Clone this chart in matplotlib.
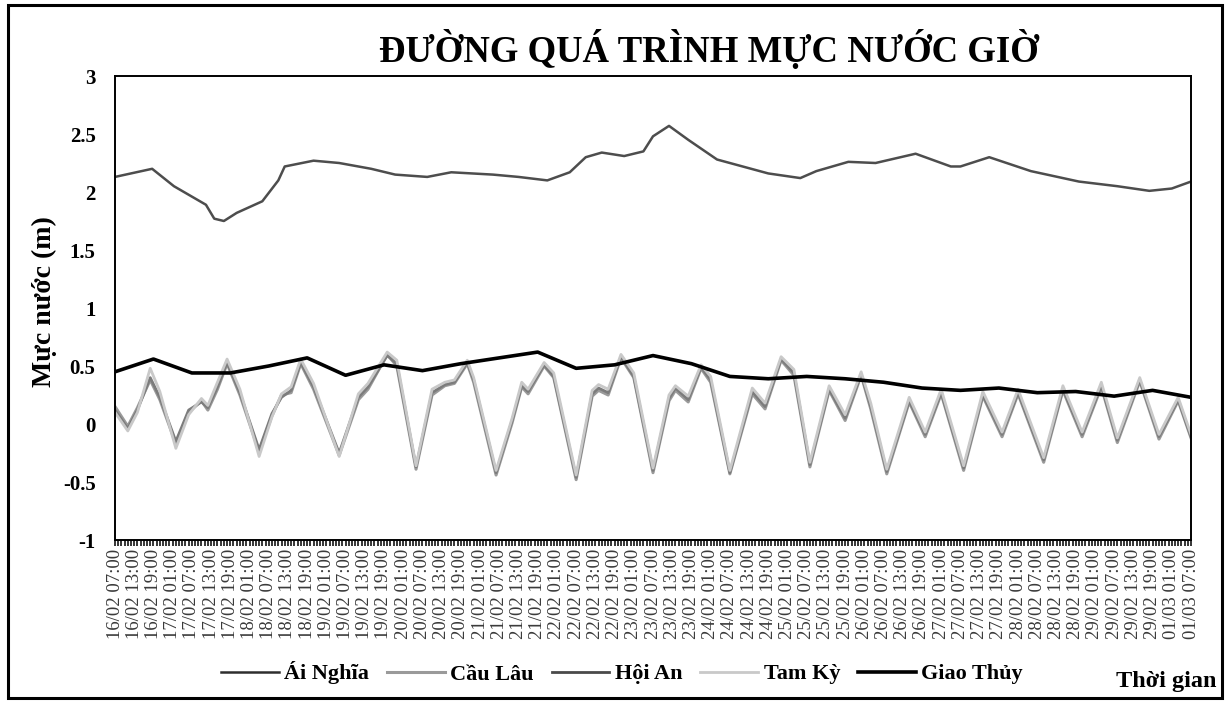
import matplotlib
matplotlib.use("Agg")
import matplotlib.pyplot as plt
from matplotlib.ticker import MultipleLocator, FixedLocator
from matplotlib.patches import Rectangle
import pandas as pd

# ---------------- data ----------------
start_time = "2020-02-16 07:00"
end_time = "2020-03-01 07:00"
tick_labels = [t.strftime("%d/%m %H:%M") for t in
               pd.date_range(start_time, end_time, freq="6h")]
y_ticks = [-1, -0.5, 0, 0.5, 1, 1.5, 2, 2.5, 3]
y_tick_labels = ["-1", "-0.5", "0", "0.5", "1", "1.5", "2", "2.5", "3"]

# hours since 16/02 07:00
an_hours = [0, 11.6, 18.4, 28.4, 31, 34, 38, 46, 51, 53, 62, 70, 80, 87.5, 97.5,
            105, 118, 126, 135, 142, 147, 152, 159, 165, 168, 173, 179, 188, 196,
            204, 214, 219, 229, 237.5, 250, 261, 264, 273, 286, 301, 313, 323, 330, 336]
ai_nghia = [2.13, 2.20, 2.05, 1.89, 1.77, 1.75, 1.82, 1.92, 2.10, 2.22, 2.27, 2.25,
            2.20, 2.15, 2.13, 2.17, 2.15, 2.13, 2.10, 2.17, 2.30, 2.34, 2.31, 2.35,
            2.48, 2.57, 2.45, 2.28, 2.22, 2.16, 2.12, 2.18, 2.26, 2.25, 2.33, 2.22,
            2.22, 2.30, 2.18, 2.09, 2.05, 2.01, 2.03, 2.09]

tide_hours = [0, 4, 7, 11, 14, 19, 23, 27, 29, 32, 35, 39, 45, 49, 52, 55, 58, 62,
              70, 76, 79, 81, 85, 88, 94, 99, 103, 106, 110, 112, 119, 124, 127, 129,
              134, 137, 144, 149, 151, 154, 158, 162, 168, 173, 175, 179, 183, 186,
              192, 199, 203, 208, 212, 217, 223, 228, 233, 236, 241, 248, 253, 258,
              265, 271, 277, 282, 290, 296, 302, 308, 313, 320, 326, 332, 336]
hoi_an = [0.12, -0.04, 0.12, 0.40, 0.23, -0.15, 0.12, 0.19, 0.14, 0.32, 0.53, 0.27,
          -0.22, 0.09, 0.23, 0.29, 0.53, 0.32, -0.25, 0.23, 0.32, 0.41, 0.59, 0.52,
          -0.37, 0.27, 0.34, 0.36, 0.53, 0.38, -0.42, 0.03, 0.33, 0.28, 0.51, 0.41,
          -0.46, 0.26, 0.31, 0.27, 0.58, 0.41, -0.40, 0.22, 0.31, 0.21, 0.49, 0.38,
          -0.42, 0.28, 0.15, 0.56, 0.44, -0.35, 0.30, 0.05, 0.43, 0.15, -0.41, 0.20,
          -0.09, 0.27, -0.38, 0.25, -0.09, 0.27, -0.31, 0.30, -0.09, 0.33, -0.14,
          0.38, -0.11, 0.21, -0.11]
cau_lau = [0.15, -0.02, 0.14, 0.38, 0.21, -0.17, 0.10, 0.20, 0.12, 0.30, 0.52, 0.25,
           -0.24, 0.07, 0.25, 0.27, 0.52, 0.30, -0.27, 0.21, 0.30, 0.40, 0.60, 0.50,
           -0.39, 0.25, 0.33, 0.35, 0.52, 0.36, -0.44, 0.01, 0.32, 0.26, 0.50, 0.40,
           -0.48, 0.24, 0.29, 0.25, 0.57, 0.40, -0.42, 0.20, 0.29, 0.19, 0.48, 0.36,
           -0.43, 0.26, 0.13, 0.55, 0.42, -0.37, 0.29, 0.03, 0.42, 0.13, -0.43, 0.19,
           -0.11, 0.26, -0.40, 0.24, -0.11, 0.26, -0.33, 0.29, -0.11, 0.32, -0.16,
           0.37, -0.13, 0.20, -0.12]
tam_ky = [0.10, -0.06, 0.10, 0.48, 0.28, -0.21, 0.08, 0.22, 0.16, 0.36, 0.56, 0.30,
          -0.28, 0.06, 0.26, 0.32, 0.56, 0.35, -0.28, 0.26, 0.35, 0.44, 0.62, 0.55,
          -0.36, 0.30, 0.36, 0.38, 0.55, 0.40, -0.40, 0.05, 0.36, 0.30, 0.53, 0.44,
          -0.44, 0.29, 0.34, 0.30, 0.60, 0.44, -0.38, 0.25, 0.33, 0.24, 0.51, 0.41,
          -0.40, 0.31, 0.18, 0.58, 0.47, -0.33, 0.33, 0.08, 0.45, 0.18, -0.39, 0.23,
          -0.07, 0.30, -0.36, 0.28, -0.07, 0.30, -0.29, 0.33, -0.07, 0.36, -0.12,
          0.40, -0.09, 0.23, -0.09]

gt_hours = [0, 12, 24, 36, 48, 60, 72, 84, 96, 108, 120, 132, 144, 156, 168, 180,
            192, 204, 216, 228, 240, 252, 264, 276, 288, 300, 312, 324, 336]
giao_thuy = [0.45, 0.56, 0.44, 0.44, 0.50, 0.57, 0.42, 0.51, 0.46, 0.52, 0.57, 0.62,
             0.48, 0.51, 0.59, 0.52, 0.41, 0.39, 0.41, 0.39, 0.36, 0.31, 0.29, 0.31,
             0.27, 0.28, 0.24, 0.29, 0.23]

series_names = ["Ái Nghĩa", "Cầu Lâu", "Hội An", "Tam Kỳ", "Giao Thủy"]

# ---------------- figure ----------------
W, H = 1225, 702
fig = plt.figure(figsize=(W / 100, H / 100), dpi=100)
fig.patch.set_facecolor("white")
serif = ["Liberation Serif", "DejaVu Serif"]

# outer frame
fig.add_artist(Rectangle((8 / W, 1 - 698 / H), (1222 - 8) / W, (698 - 5) / H,
                         transform=fig.transFigure, fill=False,
                         edgecolor="black", linewidth=2.2))

ax = fig.add_axes([115 / W, 1 - 540 / H, (1191 - 115) / W, (540 - 76) / H])

l_an, = ax.plot(an_hours, ai_nghia, color="#4d4d4d", lw=1.8, label=series_names[0])
l_cl, = ax.plot(tide_hours, cau_lau, color="#9a9a9a", lw=2.2, label=series_names[1])
l_ha, = ax.plot(tide_hours, hoi_an, color="#7c7c7c", lw=2.0, label=series_names[2])
l_tk, = ax.plot(tide_hours, tam_ky, color="#c9c9c9", lw=2.0, label=series_names[3])
l_gt, = ax.plot(gt_hours, giao_thuy, color="black", lw=2.6, label=series_names[4])

ax.set_yticks(y_ticks)
ax.set_yticklabels(y_tick_labels, fontfamily=serif, fontweight="bold", fontsize=15)
ax.tick_params(axis="y", length=0, pad=14)

ax.set_xticks(list(range(0, 337, 6)))
ax.set_xticklabels(tick_labels, rotation=90, fontfamily=serif, fontsize=13.5,
                   color="#3a3a3a")
ax.xaxis.set_minor_locator(MultipleLocator(1))
ax.tick_params(axis="x", which="both", direction="out", length=4.5, width=1.1,
               pad=2)
ax.set_xlim(0, 336)
ax.set_ylim(-1, 3)
for s in ax.spines.values():
    s.set_linewidth(1.4)
    s.set_color("black")

# title and axis titles
fig.text(709 / W, 1 - 62 / H, "ĐƯỜNG QUÁ TRÌNH MỰC NƯỚC GIỜ", ha="center",
         va="baseline", fontfamily=serif, fontweight="bold", fontsize=26.5)
fig.text(44 / W, 1 - 302 / H, "Mực nước (m)", rotation=90, ha="center",
         va="center", fontfamily=serif, fontweight="bold", fontsize=20)
fig.text(1216 / W, 1 - 681 / H, "Thời gian", ha="right", va="center",
         fontfamily=serif, fontweight="bold", fontsize=17.5)

leg = fig.legend(handles=[l_an, l_cl, l_ha, l_tk, l_gt], loc="center",
                 bbox_to_anchor=(622 / W, 1 - 673 / H), ncol=5, frameon=False,
                 prop={"family": serif, "weight": "bold", "size": 16},
                 handlelength=2.6, handletextpad=0.25, columnspacing=0.8,
                 borderaxespad=0)
# legend colours as shown in the key
leg.get_lines()[0].set_color("#2e2e2e")
leg.get_lines()[2].set_color("#4a4a4a")

fig.savefig("out.png", dpi=100, facecolor="white")
